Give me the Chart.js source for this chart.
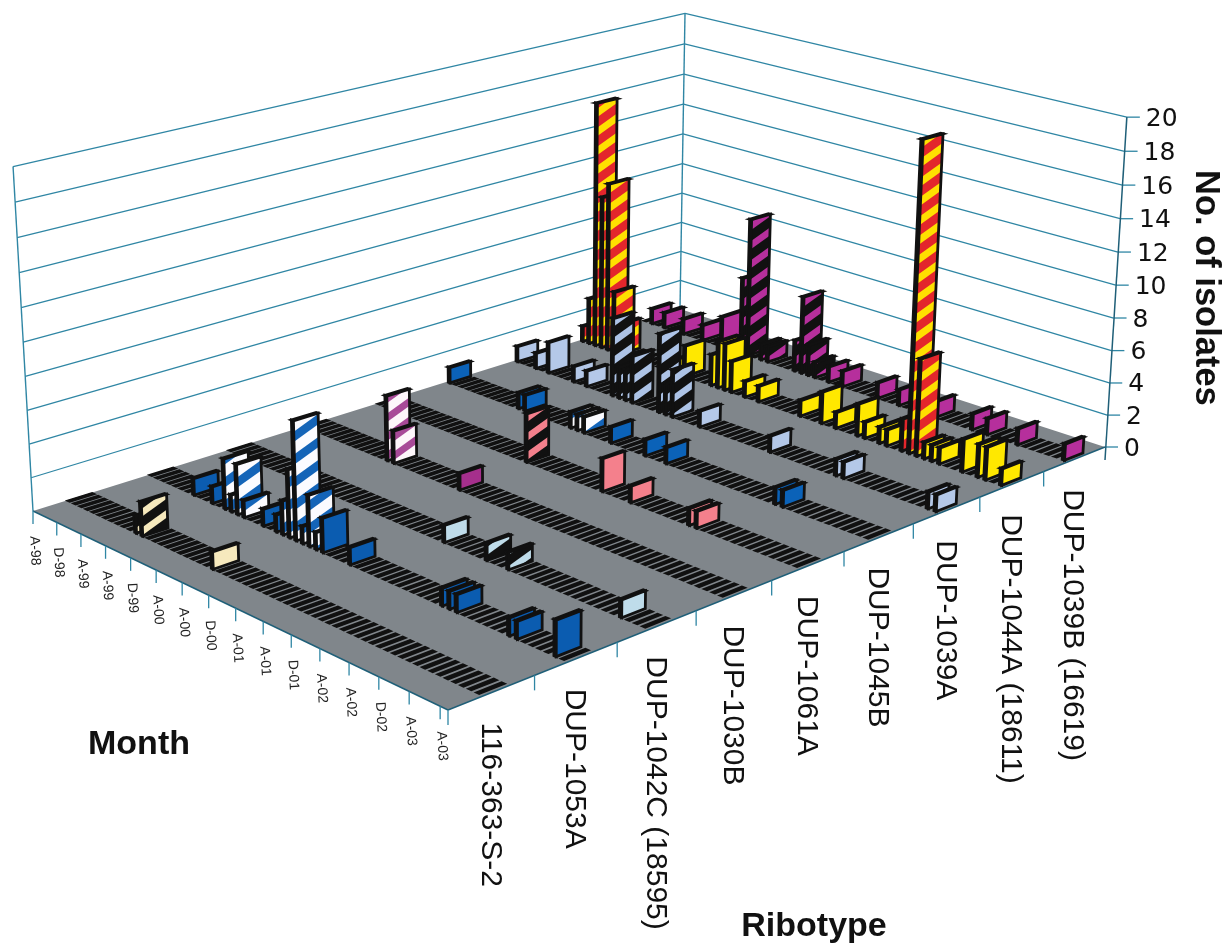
<!DOCTYPE html>
<html>
<head>
<meta charset="utf-8">
<title>Isolates per month by ribotype</title>
<script src="https://cdn.jsdelivr.net/npm/chart.js@4/dist/chart.umd.js"></script>
<style>
  html, body { margin: 0; padding: 0; background: #fff; }
  canvas { display: block; }
</style>
</head>
<body>
<canvas id="ribotypeChart" width="1225" height="946"></canvas>
<script>
const ribotypes = ["116-363-S-2", "DUP-1053A", "DUP-1042C (18595)", "DUP-1030B", "DUP-1061A",
  "DUP-1045B", "DUP-1039A", "DUP-1044A (18611)", "DUP-1039B (16619)"];
const monthLabels = ["A-98", "D-98", "A-99", "A-99", "D-99", "A-00", "A-00", "D-00",
  "A-01", "A-01", "D-01", "A-02", "A-02", "D-02", "A-03", "A-03"];
const countTicks = [0, 2, 4, 6, 8, 10, 12, 14, 16, 18, 20];
const monthCount = 61;

// [month index, isolates], months not listed are zero
const r116363 = [[11, 1], [12, 2], [23, 1]];
const dup1053A = [[7, 1], [10, 1], [12, 3], [13, 1], [14, 3], [15, 1], [18, 1], [20, 1], [21, 2], [22, 4],
  [23, 7], [24, 1], [25, 3], [26, 1], [27, 2], [31, 1], [44, 1], [45, 1], [46, 1], [53, 1], [54, 1], [59, 2]];
const dup1042C = [[33, 1], [39, 1], [42, 1], [57, 1]];
const dup1030B = [[13, 4], [14, 2], [24, 1]];
const dup1061A = [[23, 3], [34, 2], [38, 1], [46, 1], [47, 1]];
const dup1045B = [[0, 1], [11, 1], [12, 1], [19, 1], [20, 1], [21, 1], [25, 1], [30, 1], [33, 1], [48, 1], [49, 1]];
const dup1039A = [[0, 1], [3, 1], [5, 2], [9, 1], [11, 1], [15, 5], [16, 2], [17, 2], [18, 3], [22, 5],
  [23, 2], [24, 3], [28, 1], [38, 1], [47, 1], [48, 1], [59, 1], [60, 1]];
const dup1044A = [[0, 1], [1, 3], [2, 16], [3, 10], [4, 11], [5, 4], [6, 2], [15, 1], [16, 2], [20, 2],
  [21, 3], [22, 3], [23, 2], [25, 1], [27, 1], [33, 1], [36, 2], [38, 1], [41, 2], [42, 1], [44, 1], [45, 1],
  [47, 2], [48, 19], [49, 6], [50, 1], [51, 1], [52, 1], [55, 2], [57, 2], [58, 2], [60, 1]];
const dup1039B = [[1, 1], [3, 1], [6, 1], [9, 1], [12, 2], [15, 5], [16, 9], [18, 1], [19, 1], [23, 2],
  [24, 5], [25, 2], [26, 1], [28, 1], [30, 1], [35, 1], [38, 1], [43, 1], [48, 1], [50, 1], [54, 1], [60, 1]];
const rowSeries = [r116363, dup1053A, dup1042C, dup1030B, dup1061A, dup1045B, dup1039A, dup1044A, dup1039B];

// months drawn hatched instead of flat, per row
const hatched = [
  [11, 12],
  [12, 13, 14, 15, 21, 22, 23, 24, 25, 26],
  [39, 42],
  [13, 14],
  [23],
  [19, 20, 21],
  [15, 16, 17, 18, 22, 23, 24],
  [0, 1, 2, 3, 4, 5, 6, 47, 48, 49],
  [15, 16, 18, 19, 23, 24, 25, 26]
];
const flatColors = ["#f6e9bd", "#0b5cb0", "#bfdcea", "#a52f8c", "#f4808c", "#0b62b8", "#b4c8e8", "#ffe800", "#b62f9c"];
const hatchBase = ["#111", "#fbfbff", "#111", "#fdf6fa", "#111", "#fbfbff", "#111", "#e3262c", "#111"];
const hatchLine = ["#f6e9bd", "#1464b8", "#bfdcea", "#a84a98", "#f4808c", "#1464b8", "#adc3e6", "#ffe000", "#b62f9c"];

const INK = "#111";
const GRID = "#2f86a4";
const AXIS = "#1f5f78";
const FLOOR = "#80868b";

// floor plane homography, month runs along u and ribotype along v
const floorH = (function () {
  const [x0, y0] = [33, 511], [x1, y1] = [448, 710], [x2, y2] = [1105, 447], [x3, y3] = [680, 309];
  const dx1 = x1 - x2, dx2 = x3 - x2, sx = x0 - x1 + x2 - x3;
  const dy1 = y1 - y2, dy2 = y3 - y2, sy = y0 - y1 + y2 - y3;
  const det = dx1 * dy2 - dx2 * dy1;
  const g = (sx * dy2 - dx2 * sy) / det;
  const h = (dx1 * sy - sx * dy1) / det;
  return { a: x1 - x0 + g * x1, b: x3 - x0 + h * x3, c: x0, d: y1 - y0 + g * y1, e: y3 - y0 + h * y3, f: y0, g, h };
})();
const VANISH = { x: 531, y: 9114, k: -0.0385 };

function project(chart, month, row, count) {
  const { x, y, rib } = chart.scales;
  const u = (x.getPixelForValue(month) - x.left) / x.width;
  const v = (rib.getPixelForValue(row) - rib.left) / rib.width;
  const t = ((y.bottom - y.getPixelForValue(count)) / y.height) * VANISH.k;
  const H = floorH;
  const w = H.g * u + H.h * v + 1 + t;
  return {
    x: (H.a * u + H.b * v + H.c + t * VANISH.x) / w,
    y: (H.d * u + H.e * v + H.f + t * VANISH.y) / w
  };
}

function poly(ctx, pts) {
  ctx.beginPath();
  pts.forEach((p, i) => (i ? ctx.lineTo(p.x, p.y) : ctx.moveTo(p.x, p.y)));
  ctx.closePath();
}

function line(ctx, a, b, color, width) {
  ctx.strokeStyle = color;
  ctx.lineWidth = width;
  ctx.beginPath();
  ctx.moveTo(a.x, a.y);
  ctx.lineTo(b.x, b.y);
  ctx.stroke();
}

function drawWalls(chart, ctx) {
  const P = (m, r, c) => project(chart, m, r, c);
  countTicks.forEach((c) => {
    if (c > 0) {
      line(ctx, P(0, 0, c), P(0, 9, c), GRID, 1.3);
      line(ctx, P(0, 9, c), P(61, 9, c), GRID, 1.3);
    }
    const end = P(61, 9, c);
    line(ctx, end, { x: end.x + 13, y: end.y }, GRID, 1.3);
  });
  line(ctx, P(0, 0, 0), P(0, 0, 20), GRID, 1.4);
  line(ctx, P(0, 9, 0), P(0, 9, 20), GRID, 1.4);
  const rb = P(61, 9, 0);
  line(ctx, { x: rb.x, y: rb.y + 13 }, P(61, 9, 20), AXIS, 1.5);
  ctx.fillStyle = FLOOR;
  poly(ctx, [P(0, 0, 0), P(61, 0, 0), P(61, 9, 0), P(0, 9, 0)]);
  ctx.fill();
  line(ctx, P(0, 0, 0), P(61, 0, 0), AXIS, 1.4);
  line(ctx, P(61, 0, 0), P(61, 9, 0), AXIS, 1.4);
}

function drawAxisTicks(chart, ctx) {
  monthLabels.forEach((_, i) => {
    const p = project(chart, i * 4, 0, 0);
    line(ctx, p, { x: p.x, y: p.y + 13 }, GRID, 1.3);
  });
  ribotypes.forEach((_, i) => {
    const p = project(chart, 61, i, 0);
    line(ctx, p, { x: p.x, y: p.y + 15 }, GRID, 1.3);
  });
}

function drawHatch(ctx, pts, base, stripe, period, share) {
  const xs = pts.map((p) => p.x), ys = pts.map((p) => p.y);
  const minX = Math.min(...xs), maxX = Math.max(...xs), minY = Math.min(...ys), maxY = Math.max(...ys);
  const slope = 0.72;
  ctx.save();
  poly(ctx, pts);
  ctx.clip();
  ctx.fillStyle = base;
  ctx.fillRect(minX - 2, minY - 2, maxX - minX + 4, maxY - minY + 4);
  ctx.strokeStyle = stripe;
  ctx.lineWidth = period * share * 0.81;
  ctx.lineCap = "butt";
  const span = (maxX - minX) * slope;
  const first = Math.floor(minY / period) * period;
  for (let yy = first; yy < maxY + span + period; yy += period) {
    ctx.beginPath();
    ctx.moveTo(minX - 4, yy + 4 * slope);
    ctx.lineTo(maxX + 4, yy - (maxX - minX + 4) * slope);
    ctx.stroke();
  }
  ctx.restore();
}

// one thin plate: left side and top first, then the face toward the front corner
function drawBar(chart, ctx, row, month, count, isHatched) {
  const P = (m, r, c) => project(chart, m, r, c);
  const r0 = row + 0.4, r1 = row + 0.7;
  const m0 = month + 0.2, m1 = month + 0.5;
  ctx.lineJoin = "miter";
  ctx.strokeStyle = INK;
  if (count === 0) {
    ctx.fillStyle = INK;
    ctx.lineWidth = 1.7;
    const z0 = month + 0.06, z1 = month + 0.5;
    poly(ctx, [P(z0, r0, 0), P(z1, r0, 0), P(z1, r1, 0), P(z0, r1, 0)]);
    ctx.fill();
    ctx.stroke();
    return;
  }
  ctx.lineWidth = 2.8;
  ctx.fillStyle = INK;
  poly(ctx, [P(m0, r0, 0), P(m1, r0, 0), P(m1, r0, count), P(m0, r0, count)]);
  ctx.fill();
  ctx.stroke();
  poly(ctx, [P(m0, r0, count), P(m1, r0, count), P(m1, r1, count), P(m0, r1, count)]);
  ctx.fill();
  ctx.stroke();
  const face = [P(m1, r0, 0), P(m1, r1, 0), P(m1, r1, count), P(m1, r0, count)];
  if (isHatched) {
    const black = hatchBase[row] === INK;
    drawHatch(ctx, face, hatchBase[row], hatchLine[row], row === 1 || row === 5 ? 23 : 19, black ? 0.42 : 0.45);
  } else {
    ctx.fillStyle = flatColors[row];
    poly(ctx, face);
    ctx.fill();
  }
  poly(ctx, face);
  ctx.stroke();
}

function drawText(ctx, text, x, y, font, angle, align, color) {
  ctx.save();
  ctx.translate(x, y);
  ctx.rotate(angle);
  ctx.font = font;
  ctx.fillStyle = color || "#111";
  ctx.textAlign = align;
  ctx.textBaseline = "middle";
  ctx.fillText(text, 0, 0);
  ctx.restore();
}

function drawLabels(chart, ctx) {
  const sans = '"Liberation Sans", Arial, sans-serif';
  monthLabels.forEach((label, i) => {
    const p = project(chart, i * 4, 0, 0);
    drawText(ctx, label, p.x + 1, p.y + 25, "14px " + sans, (87 * Math.PI) / 180, "left", "#222");
  });
  ribotypes.forEach((label, i) => {
    const p = project(chart, 61, i + 0.5, 0);
    drawText(ctx, label, p.x - 2, p.y + 30, "30px " + sans, Math.PI / 2, "left");
  });
  countTicks.forEach((c) => {
    const p = project(chart, 61, 9, c);
    drawText(ctx, String(c), p.x + 19, p.y + 2, '25px "DejaVu Sans", sans-serif', 0, "left");
  });
  drawText(ctx, "No. of isolates", 1206, 170, "bold 34.5px " + sans, Math.PI / 2, "left");
  drawText(ctx, "Month", 139, 745, "bold 34px " + sans, 0, "center");
  drawText(ctx, "Ribotype", 814, 927, "bold 34px " + sans, 0, "center");
}

const perspectivePlate = {
  id: "perspectivePlate",
  afterDatasetsDraw(chart) {
    const ctx = chart.ctx;
    ctx.save();
    ctx.fillStyle = "#fff";
    ctx.fillRect(0, 0, chart.width, chart.height);
    drawWalls(chart, ctx);
    drawAxisTicks(chart, ctx);
    // far row first, then oldest month first within a row
    for (let row = ribotypes.length - 1; row >= 0; row--) {
      chart.data.datasets[row].data.forEach((pt) => {
        drawBar(chart, ctx, row, pt.x, pt.y, hatched[row].includes(pt.x));
      });
    }
    drawLabels(chart, ctx);
    ctx.restore();
  }
};

function rowPoints(series) {
  const points = [];
  for (let m = 0; m < monthCount; m++) {
    const hit = series.find((s) => s[0] === m);
    points.push({ x: m, y: hit ? hit[1] : 0 });
  }
  return points;
}

new Chart(document.getElementById("ribotypeChart"), {
  type: "scatter",
  data: {
    datasets: rowSeries.map((series, i) => ({
      label: ribotypes[i],
      data: rowPoints(series),
      pointRadius: 0,
      showLine: false
    }))
  },
  plugins: [perspectivePlate],
  options: {
    responsive: false,
    animation: false,
    layout: { padding: 0 },
    plugins: { legend: { display: false }, tooltip: { enabled: false } },
    scales: {
      x: { type: "linear", min: 0, max: monthCount, display: false },
      y: { type: "linear", min: 0, max: 20, display: false },
      rib: { type: "linear", axis: "x", min: 0, max: ribotypes.length, display: false }
    }
  }
});
</script>
</body>
</html>
